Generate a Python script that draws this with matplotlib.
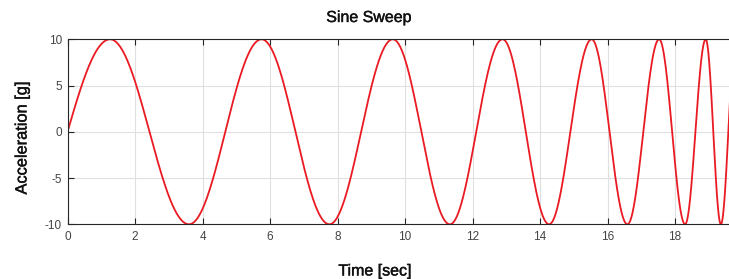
import numpy as np
import matplotlib
matplotlib.use("Agg")
import matplotlib.pyplot as plt
import matplotlib.patheffects as pe

# Extrema of the sweep (time in sec, acceleration in g)
t_extrema = [0.0, 1.26, 3.60, 5.75, 7.76, 9.64, 11.33, 12.89, 14.27,
             15.53, 16.59, 17.53, 18.30, 18.91, 19.36, 19.80]
a_extrema = [0, 10, -10, 10, -10, 10, -10, 10, -10,
             10, -10, 10, -10, 10, -10, 10]
x_ticks = [0, 2, 4, 6, 8, 10, 12, 14, 16, 18]
y_ticks = [-10, -5, 0, 5, 10]
title = "Sine Sweep"
xlabel = "Time [sec]"
ylabel = "Acceleration [g]"

# phase of the sweep at each extremum: start at 0, then peaks/troughs every half cycle
phase_pts = [0.0] + [(2 * i - 1) * np.pi / 2 for i in range(1, len(t_extrema))]
t = np.linspace(t_extrema[0], t_extrema[-1], 5000)
phase = np.interp(t, t_extrema, phase_pts)
acc = np.max(np.abs(a_extrema)) * np.sin(phase)

plt.rcParams['font.family'] = ['Liberation Sans', 'DejaVu Sans']
plt.rcParams['axes.unicode_minus'] = False
W, H = 729, 279
fig = plt.figure(figsize=(W / 100, H / 100), dpi=100)
ax = fig.add_axes([67.5 / W, 54.7 / H, 675 / W, 185 / H])
ax.plot(t, acc, color='#ea1a22', lw=1.3)
ax.set_xlim(0, 20)
ax.set_ylim(-10, 10)
ax.set_xticks(x_ticks)
ax.set_yticks(y_ticks)
ax.grid(True, color='#e0e0e0', lw=0.8)
ax.set_axisbelow(True)
ax.tick_params(direction='in', top=True, right=True, length=4, width=0.8,
               colors='#262626', labelcolor='#444444', labelsize=8.5, pad=5)
ax.tick_params(axis='y', pad=4)
for s in ax.spines.values():
    s.set_color('#262626')
    s.set_linewidth(0.8)

thick = [pe.withStroke(linewidth=0.3, foreground='#111111')]
fig.text(369 / W, 1 - 17.5 / H, title, ha='center', va='center', fontsize=11.5,
         color='#111111', path_effects=thick)
fig.text(375 / W, 1 - 271 / H, xlabel, ha='center', va='center', fontsize=11.5,
         color='#111111', path_effects=thick)
fig.text(22 / W, 1 - 138 / H, ylabel, ha='center', va='center', fontsize=11.8,
         rotation=90, color='#111111', path_effects=thick)

fig.savefig("out.png", dpi=100)
